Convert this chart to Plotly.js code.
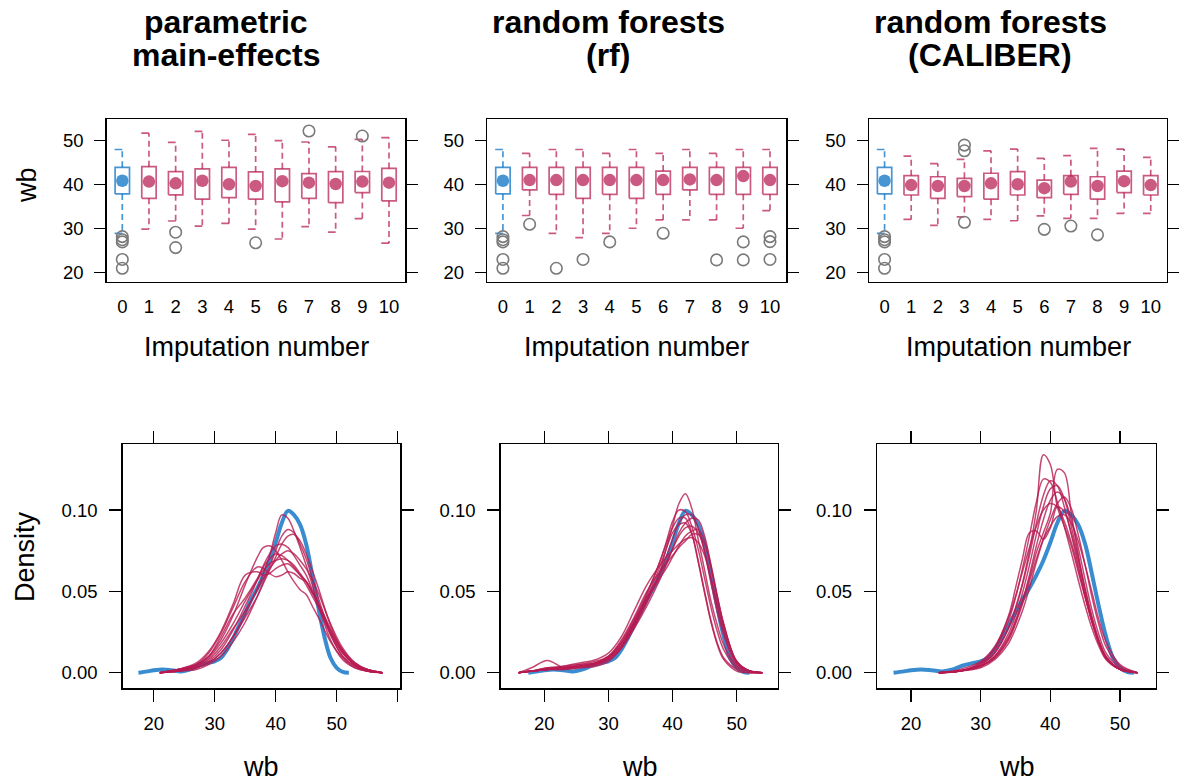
<!DOCTYPE html>
<html><head><meta charset="utf-8">
<script src="https://cdn.plot.ly/plotly-3.0.1.min.js"></script>
<style>html,body{margin:0;padding:0;background:#fff}#chart{width:1184px;height:782px}</style>
</head><body><div id="chart"></div><script>
// ---------- data: box plots (wb by imputation number) ----------
const imputation = [0,1,2,3,4,5,6,7,8,9,10];

const pmUpper = [48.0, 51.7, 49.6, 52.1, 50.1, 51.45, 50.0, 49.7, 48.6, 50.3, 50.7];
const pmQ3    = [43.95, 44.1, 42.95, 43.6, 43.95, 42.9, 43.6, 42.5, 42.95, 43.0, 43.7];
const pmMed   = [40.9, 40.7, 40.3, 40.9, 40.1, 39.7, 40.8, 40.45, 40.15, 40.7, 40.45];
const pmQ1    = [37.9, 36.9, 37.7, 36.7, 37.05, 36.7, 36.1, 36.9, 35.9, 38.2, 36.3];
const pmLower = [28.95, 29.9, 31.75, 30.6, 31.2, 29.9, 27.65, 30.45, 29.2, 32.3, 26.7];
const pmOutImp = [0,0,0,0,0, 2,2, 5, 7, 9];
const pmOutVal = [28.2,27.5,27.0,23.0,21.0, 29.2,25.7, 26.8, 52.2, 51.05];

const rfUpper = [48.0, 47.1, 48.0, 48.0, 47.1, 48.0, 47.1, 48.0, 47.1, 48.0, 48.0];
const rfQ3    = [43.95, 43.95, 43.95, 43.95, 43.95, 43.95, 43.1, 43.95, 43.95, 43.95, 43.95];
const rfMed   = [40.9, 41.05, 41.05, 41.05, 41.05, 41.05, 41.05, 41.2, 41.05, 41.95, 41.05];
const rfQ1    = [37.9, 38.8, 37.8, 36.9, 37.8, 36.9, 37.8, 38.8, 37.8, 37.8, 37.8];
const rfLower = [28.95, 33.0, 28.95, 27.95, 28.95, 30.1, 32.0, 32.0, 32.0, 30.1, 34.1];
const rfOutImp = [0,0,0,0,0, 1, 2, 3, 4, 6, 8, 9,9, 10,10,10];
const rfOutVal = [28.2,27.5,27.0,23.0,21.0, 31.0, 21.0, 23.0, 27.0, 28.95, 22.9, 27.0,22.9, 28.2,27.05,23.0];

const calUpper = [48.0, 46.5, 44.8, 45.75, 47.7, 48.1, 46.0, 46.6, 48.25, 48.1, 46.2];
const calQ3    = [43.95, 42.05, 41.8, 41.45, 42.6, 42.95, 41.05, 42.05, 41.8, 43.1, 42.05];
const calMed   = [40.9, 39.9, 39.7, 39.7, 40.3, 40.1, 39.2, 40.7, 39.7, 40.8, 39.9];
const calQ1    = [37.9, 37.65, 36.9, 37.3, 36.7, 37.65, 37.05, 37.8, 36.7, 38.2, 37.65];
const calLower = [28.95, 32.1, 30.75, 32.7, 32.1, 31.8, 32.9, 32.35, 32.35, 33.5, 33.5];
const calOutImp = [0,0,0,0,0, 3,3,3, 6, 7, 8];
const calOutVal = [28.2,27.5,27.0,23.0,21.0, 49.0,47.7,31.45, 29.85, 30.6, 28.6];

// ---------- data: density curves ----------
const obsGrid = [17.5,19,20,21.5,23,24.5,26,27.5,29,30,31,32,33,34,35,36,37,38,39,40,41,42,43,44,45,46,47,48,49,50,51,52];
const obsDens = [0,.0008,.0015,.002,.0015,.0008,.002,.0045,.006,.007,.009,.014,.021,.029,.037,.045,.052,.060,.069,.080,.092,.0995,.097,.091,.079,.060,.040,.022,.009,.003,.0005,0];

const pmGrid = [21,24,27,29,31,33,35,37,38,39,40,41,42,43,44,45,46,47,49,51,53,55,57.5];
const pmDens = [
 [0,.001,.003,.006,.012,.022,.036,.052,.061,.072,.086,.097,.095,.087,.077,.066,.054,.042,.020,.008,.003,.001,0],
 [0,.001,.002,.005,.010,.019,.031,.047,.056,.065,.075,.084,.088,.086,.079,.070,.058,.046,.024,.010,.004,.001,0],
 [0,.001,.003,.006,.012,.022,.034,.047,.055,.063,.071,.079,.084,.085,.081,.073,.063,.052,.029,.013,.005,.001,0],
 [0,.002,.005,.010,.020,.035,.054,.071,.077,.078,.075,.069,.062,.056,.051,.048,.041,.034,.019,.009,.003,.001,0],
 [0,.001,.003,.007,.014,.026,.041,.057,.066,.073,.078,.079,.077,.072,.066,.060,.051,.042,.023,.010,.004,.001,0],
 [0,.001,.004,.008,.016,.027,.038,.051,.058,.064,.069,.073,.075,.073,.069,.064,.057,.049,.030,.015,.006,.002,0],
 [0,.002,.004,.009,.018,.030,.044,.057,.063,.067,.069,.070,.069,.066,.061,.056,.049,.042,.025,.012,.005,.002,0],
 [0,.002,.005,.012,.024,.040,.056,.065,.064,.061,.059,.060,.062,.061,.058,.056,.050,.043,.027,.014,.006,.002,0],
 [0,.002,.006,.013,.025,.042,.060,.062,.060,.061,.064,.066,.067,.064,.060,.056,.049,.042,.026,.013,.005,.002,0],
 [0,.002,.005,.010,.022,.036,.046,.058,.065,.070,.073,.072,.069,.065,.060,.054,.047,.040,.024,.012,.005,.002,0]
];

const rfGrid = [16,18,20.5,23,25.5,28,30,32,34,36,38,39,40,41,42,43,44,45,46,47,48,50,52,54];
const rfDens = [
 [0,.001,.002,.002,.003,.004,.007,.015,.028,.043,.062,.076,.090,.104,.110,.101,.082,.063,.044,.029,.017,.004,.001,0],
 [0,.003,.0075,.003,.003,.005,.009,.018,.032,.048,.068,.080,.093,.100,.099,.090,.076,.058,.040,.025,.014,.003,.001,0],
 [0,.001,.002,.002,.004,.006,.009,.016,.029,.044,.061,.071,.082,.092,.097,.097,.089,.074,.055,.037,.023,.005,.001,0],
 [0,.001,.002,.003,.004,.005,.008,.015,.027,.041,.057,.066,.076,.086,.092,.095,.094,.084,.066,.046,.029,.007,.001,0],
 [0,.001,.002,.003,.005,.007,.010,.018,.031,.046,.060,.068,.076,.084,.089,.090,.086,.075,.058,.040,.025,.006,.001,0],
 [0,.001,.002,.003,.004,.006,.009,.017,.030,.045,.058,.064,.071,.078,.084,.087,.088,.081,.066,.047,.030,.007,.001,0],
 [0,.001,.003,.004,.005,.006,.010,.020,.034,.050,.062,.067,.072,.077,.081,.085,.085,.079,.064,.046,.029,.007,.001,0],
 [0,.001,.002,.004,.006,.008,.012,.022,.038,.054,.066,.071,.075,.079,.082,.083,.080,.072,.058,.042,.027,.006,.001,0],
 [0,.001,.002,.003,.004,.005,.008,.016,.030,.046,.065,.076,.086,.091,.092,.085,.068,.049,.031,.017,.008,.001,0,0],
 [0,.001,.003,.003,.004,.006,.010,.019,.033,.049,.068,.079,.089,.095,.095,.086,.069,.050,.032,.018,.009,.002,0,0]
];

const calGrid = [24,27,30,32,34,35,36,37,38,39,40,41,42,43,44,45,46,47,48,50,52.5];
const calDens = [
 [0,.001,.005,.012,.028,.040,.055,.075,.100,.134,.128,.102,.090,.078,.062,.046,.031,.018,.009,.002,0],
 [0,.001,.004,.010,.022,.032,.044,.058,.074,.086,.098,.125,.123,.098,.073,.050,.032,.018,.009,.002,0],
 [0,.001,.006,.014,.032,.046,.064,.084,.105,.119,.117,.105,.090,.074,.057,.041,.027,.016,.008,.002,0],
 [0,.001,.005,.012,.027,.039,.054,.072,.092,.109,.118,.115,.102,.085,.066,.047,.031,.018,.009,.002,0],
 [0,.001,.004,.010,.024,.035,.049,.066,.085,.102,.113,.115,.107,.090,.071,.052,.034,.020,.010,.002,0],
 [0,.001,.004,.009,.021,.031,.044,.060,.078,.094,.106,.111,.107,.094,.077,.057,.038,.023,.012,.003,0],
 [0,.001,.003,.008,.018,.027,.038,.052,.068,.082,.094,.104,.108,.101,.085,.066,.046,.029,.016,.004,0],
 [0,.001,.006,.015,.035,.052,.070,.086,.087,.082,.089,.102,.099,.086,.069,.050,.033,.019,.010,.002,0],
 [0,.002,.007,.016,.034,.047,.062,.077,.090,.100,.104,.102,.093,.080,.064,.047,.031,.018,.009,.002,0],
 [0,.001,.004,.009,.020,.030,.042,.056,.070,.082,.090,.096,.097,.092,.081,.066,.049,.032,.019,.005,0]
];

// ---------- text ----------
const titles = [["parametric","main-effects"],["random forests","(rf)"],["random forests","(CALIBER)"]];
const boxYTicks = [20,30,40,50];
const densYTicks = [0,0.05,0.10];
const densYLabels = ["0.00","0.05","0.10"];

// ---------- drawing ----------
const W=1184, H=782;
const fx = p => p/W, fy = p => 1-p/H;
const OBS='rgba(0,108,194,0.72)', IMP='rgba(182,26,81,0.72)';
const IMPL='rgba(182,26,81,0.8)';
const FONT='Liberation Sans, Arial, Helvetica, sans-serif';
const HW=0.27, CW=0.29;
const traces=[];

function boxPanel(n, d){
  const xa='x'+n, ya='y'+n;
  const groups=[{idx:[0],col:OBS},{idx:imputation.slice(1),col:IMP}];
  groups.forEach(g=>{
    const bx=[],by=[],wx=[],wy=[],cx=[],cy=[];
    g.idx.forEach(i=>{
      const x=imputation[i];
      bx.push(x-HW,x+HW,x+HW,x-HW,x-HW,null); by.push(d.q1[i],d.q1[i],d.q3[i],d.q3[i],d.q1[i],null);
      wx.push(x,x,null,x,x,null); wy.push(d.q3[i],d.up[i],null,d.q1[i],d.lo[i],null);
      cx.push(x-CW,x,null,x-CW,x,null); cy.push(d.up[i],d.up[i],null,d.lo[i],d.lo[i],null);
    });
    traces.push({type:'scatter',mode:'lines',x:wx,y:wy,xaxis:xa,yaxis:ya,line:{color:g.col,width:1.7,dash:'6px,4px'},hoverinfo:'skip',showlegend:false});
    traces.push({type:'scatter',mode:'lines',x:cx,y:cy,xaxis:xa,yaxis:ya,line:{color:g.col,width:1.7},hoverinfo:'skip',showlegend:false});
    traces.push({type:'scatter',mode:'lines',x:bx,y:by,xaxis:xa,yaxis:ya,line:{color:g.col,width:1.7},hoverinfo:'skip',showlegend:false});
    traces.push({type:'scatter',mode:'markers',x:g.idx.map(i=>imputation[i]),y:g.idx.map(i=>d.med[i]),xaxis:xa,yaxis:ya,marker:{size:12.5,color:g.col},showlegend:false});
  });
  traces.push({type:'scatter',mode:'markers',x:d.oi,y:d.ov,xaxis:xa,yaxis:ya,marker:{symbol:'circle-open',size:11.5,color:'#7a7a7a',line:{width:1.6,color:'#7a7a7a'}},showlegend:false});
}
boxPanel(1,{lo:pmLower,q1:pmQ1,med:pmMed,q3:pmQ3,up:pmUpper,oi:pmOutImp,ov:pmOutVal});
boxPanel(2,{lo:rfLower,q1:rfQ1,med:rfMed,q3:rfQ3,up:rfUpper,oi:rfOutImp,ov:rfOutVal});
boxPanel(3,{lo:calLower,q1:calQ1,med:calMed,q3:calQ3,up:calUpper,oi:calOutImp,ov:calOutVal});

function densPanel(n, grid, dens){
  const xa='x'+n, ya='y'+n;
  traces.push({type:'scatter',mode:'lines',x:obsGrid,y:obsDens,xaxis:xa,yaxis:ya,line:{color:'rgba(0,108,194,0.78)',width:4,shape:'spline',smoothing:1},hoverinfo:'skip',showlegend:false});
  dens.forEach(c=>traces.push({type:'scatter',mode:'lines',x:grid,y:c,xaxis:xa,yaxis:ya,line:{color:IMPL,width:1.5,shape:'spline',smoothing:1},hoverinfo:'skip',showlegend:false}));
}
densPanel(4,pmGrid,pmDens);
densPanel(5,rfGrid,rfDens);
densPanel(6,calGrid,calDens);

const tickFont={family:FONT,size:18.5,color:'#000'};
function topX(d){return {domain:d,range:[-0.585,10.6],tickvals:imputation,ticks:'',showline:true,mirror:true,linecolor:'#000',linewidth:1.5,showgrid:false,zeroline:false,tickfont:tickFont,ticklabelstandoff:8,fixedrange:true};}
function topY(){return {domain:[fy(281.7),fy(119.3)],range:[17.95,54.86],tickvals:boxYTicks,ticks:'outside',ticklen:11,tickwidth:1.5,tickcolor:'#000',showline:true,mirror:'ticks',linecolor:'#000',linewidth:1.5,showgrid:false,zeroline:false,tickfont:tickFont,ticklabelstandoff:7,fixedrange:true};}
function botX(d,r,tv,tt){return {domain:d,range:r,tickvals:tv,ticktext:tt,ticks:'outside',ticklen:12,tickwidth:1.5,tickcolor:'#000',showline:true,mirror:'ticks',linecolor:'#000',linewidth:1.5,showgrid:false,zeroline:false,tickfont:tickFont,ticklabelstandoff:6,fixedrange:true};}
function botY(){return {domain:[fy(688.3),fy(444.3)],range:[-0.0096,0.1404],tickvals:densYTicks,ticktext:densYLabels,ticks:'outside',ticklen:12,tickwidth:1.5,tickcolor:'#000',showline:true,mirror:'ticks',linecolor:'#000',linewidth:1.5,showgrid:false,zeroline:false,tickfont:tickFont,ticklabelstandoff:8,fixedrange:true};}

const layout={
  width:W,height:H,margin:{l:0,r:0,t:0,b:0},paper_bgcolor:'#fff',plot_bgcolor:'#fff',showlegend:false,
  font:{family:FONT,color:'#000'},
  xaxis1:Object.assign(topX([fx(106.7),fx(405)]),{anchor:'y1'}),
  yaxis1:Object.assign(topY(),{anchor:'x1'}),
  xaxis2:Object.assign(topX([fx(487.3),fx(786)]),{anchor:'y2'}),
  yaxis2:Object.assign(topY(),{anchor:'x2'}),
  xaxis3:Object.assign(topX([fx(869),fx(1166.7)]),{anchor:'y3'}),
  yaxis3:Object.assign(topY(),{anchor:'x3'}),
  xaxis4:Object.assign(botX([fx(122.7),fx(400)],[14.92,60.38],[20,30,40,50,60],['20','30','40','50','']),{anchor:'y4'}),
  yaxis4:Object.assign(botY(),{anchor:'x4'}),
  xaxis5:Object.assign(botX([fx(500.7),fx(777.7)],[13.2,56.4],[20,30,40,50],['20','30','40','50']),{anchor:'y5'}),
  yaxis5:Object.assign(botY(),{anchor:'x5'}),
  xaxis6:Object.assign(botX([fx(877.3),fx(1155.7)],[15.17,55.12],[20,30,40,50],['20','30','40','50']),{anchor:'y6'}),
  yaxis6:Object.assign(botY(),{anchor:'x6'}),
  annotations:[]
};
const titleX=[226,608,990];
const titleFont={family:FONT,size:32,color:'#000'};
titles.forEach((t,i)=>{
  layout.annotations.push({xref:'paper',yref:'paper',x:fx(titleX[i]),y:fy(22),text:'<b>'+t[0]+'</b>',showarrow:false,xanchor:'center',yanchor:'middle',font:titleFont});
  layout.annotations.push({xref:'paper',yref:'paper',x:fx(titleX[i]),y:fy(55),text:'<b>'+t[1]+'</b>',showarrow:false,xanchor:'center',yanchor:'middle',font:titleFont});
});
const labFont={family:FONT,size:27,color:'#000'};
[256,636.5,1018].forEach(x=>layout.annotations.push({xref:'paper',yref:'paper',x:fx(x),y:fy(347),text:'Imputation number',showarrow:false,xanchor:'center',yanchor:'middle',font:labFont}));
[261,639.5,1016.5].forEach(x=>layout.annotations.push({xref:'paper',yref:'paper',x:fx(x),y:fy(767),text:'wb',showarrow:false,xanchor:'center',yanchor:'middle',font:labFont}));
layout.annotations.push({xref:'paper',yref:'paper',x:fx(27),y:fy(185),text:'wb',textangle:-90,showarrow:false,xanchor:'center',yanchor:'middle',font:labFont});
layout.annotations.push({xref:'paper',yref:'paper',x:fx(25),y:fy(557),text:'Density',textangle:-90,showarrow:false,xanchor:'center',yanchor:'middle',font:labFont});

Plotly.newPlot('chart',traces,layout,{displayModeBar:false,staticPlot:true});
</script></body></html>
